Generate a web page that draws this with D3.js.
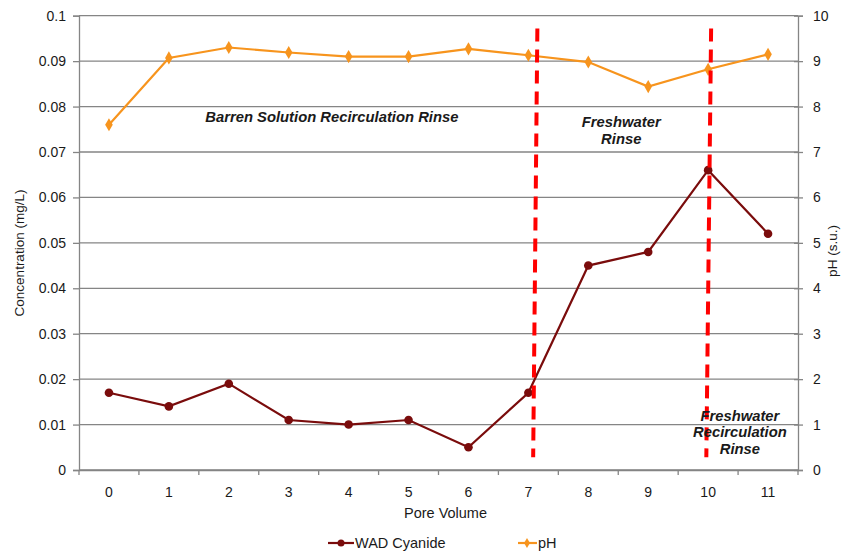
<!DOCTYPE html>
<html><head><meta charset="utf-8">
<script src="https://cdn.jsdelivr.net/npm/d3@7"></script>
<style>body{margin:0;background:#fff}svg{display:block;font-family:"Liberation Sans",Arial,sans-serif}</style>
</head><body><svg id="c" width="841" height="553"></svg>
<script>
const poreVolumes = [0,1,2,3,4,5,6,7,8,9,10,11];
const wadCyanide = [0.017,0.014,0.019,0.011,0.010,0.011,0.005,0.017,0.045,0.048,0.066,0.052];
const pH = [7.6,9.07,9.3,9.19,9.1,9.1,9.27,9.13,8.98,8.44,8.82,9.15];
const concTicks = [0,0.01,0.02,0.03,0.04,0.05,0.06,0.07,0.08,0.09,0.1];
const phTicks = [0,1,2,3,4,5,6,7,8,9,10];
const phaseLines = [{x0:7.15,x1:7.08,y0:9.72,y1:0.28},{x0:10.05,x1:9.97,y0:9.72,y1:0.28}];
const annotations = [
  {x:3.72,y:7.66,lines:["Barren Solution Recirculation Rinse"]},
  {x:8.55,y:7.55,lines:["Freshwater","Rinse"]},
  {x:10.53,y:1.08,lines:["Freshwater","Recirculation","Rinse"]}
];

const svg = d3.select("#c");
const L=79,R=798,T=15.7,B=470;
const x = d3.scaleBand().domain(poreVolumes).range([L,R]);
const xc = v => x(0) + x.bandwidth()/2 + v*x.step();
const yL = d3.scaleLinear().domain([0,0.1]).range([B,T]);
const yR = d3.scaleLinear().domain([0,10]).range([B,T]);
const grid="#858585";

// gridlines
svg.append("g").selectAll("line").data(concTicks.slice(1)).join("line")
  .attr("x1",L).attr("x2",R).attr("y1",d=>yL(d)).attr("y2",d=>yL(d))
  .attr("stroke",grid).attr("stroke-width",1.3);

// left axis
const gl = svg.append("g").attr("transform",`translate(${L},0)`)
  .call(d3.axisLeft(yL).tickValues(concTicks).tickFormat(d=>d===0?"0":String(+d.toFixed(2))).tickSizeOuter(0).tickSize(6).tickPadding(7));
// right axis
const gr = svg.append("g").attr("transform",`translate(${R},0)`)
  .call(d3.axisRight(yR).tickValues(phTicks).tickSizeOuter(0).tickSize(5).tickPadding(10));
gr.selectAll(".tick line").attr("x1",-4);
// bottom axis
const gb = svg.append("g").attr("transform",`translate(0,${B})`)
  .call(d3.axisBottom(x).tickSize(0).tickPadding(17));
gb.selectAll(".tick text").attr("dy","0.71em");
// x ticks at band boundaries
svg.append("g").selectAll("line").data(d3.range(poreVolumes.length+1)).join("line")
  .attr("x1",d=>L+d*x.step()).attr("x2",d=>L+d*x.step()).attr("y1",B).attr("y2",B+5)
  .attr("stroke",grid).attr("stroke-width",1.3);

[gl,gr,gb].forEach(g=>{
  g.selectAll(".domain").attr("stroke",grid).attr("stroke-width",1.3);
  g.selectAll(".tick line").attr("stroke",grid).attr("stroke-width",1.3);
  g.selectAll("text").attr("font-size",14).attr("fill","#1a1a1a").attr("font-family","Liberation Sans, Arial, sans-serif");
});
svg.append("line").attr("x1",L).attr("x2",R).attr("y1",B).attr("y2",B).attr("stroke",grid).attr("stroke-width",1.3);

// axis titles
svg.append("text").attr("x",(L+R)/2+7).attr("y",518).attr("text-anchor","middle").attr("font-size",14.5).attr("fill","#1a1a1a").text("Pore Volume");
svg.append("text").attr("transform","translate(24,253) rotate(-90)").attr("text-anchor","middle").attr("font-size",13.5).attr("fill","#1a1a1a").text("Concentration (mg/L)");
svg.append("text").attr("transform","translate(837,251) rotate(-90)").attr("text-anchor","middle").attr("font-size",13.5).attr("fill","#1a1a1a").text("pH (s.u.)");

// pH line
const orange="#f7941d", dred="#7a0c0c";
svg.append("path").datum(pH).attr("fill","none").attr("stroke",orange).attr("stroke-width",2.2)
  .attr("d",d3.line().x((d,i)=>xc(poreVolumes[i])).y(d=>yR(d)));
svg.append("g").selectAll("path").data(pH).join("path")
  .attr("d",d3.symbol(d3.symbolDiamond,50)).attr("fill",orange)
  .attr("transform",(d,i)=>`translate(${xc(poreVolumes[i])},${yR(d)})`);

// WAD line
svg.append("path").datum(wadCyanide).attr("fill","none").attr("stroke",dred).attr("stroke-width",2.2)
  .attr("d",d3.line().x((d,i)=>xc(poreVolumes[i])).y(d=>yL(d)));
svg.append("g").selectAll("circle").data(wadCyanide).join("circle")
  .attr("cx",(d,i)=>xc(poreVolumes[i])).attr("cy",d=>yL(d)).attr("r",4.3).attr("fill",dred);

// phase lines
svg.append("g").selectAll("line").data(phaseLines).join("line")
  .attr("x1",d=>xc(d.x0)).attr("x2",d=>xc(d.x1)).attr("y1",d=>yR(d.y0)).attr("y2",d=>yR(d.y1))
  .attr("stroke","#ff0000").attr("stroke-width",4).attr("stroke-dasharray","13,8");

// annotations
annotations.forEach(a=>{
  const t = svg.append("text").attr("text-anchor","middle").attr("font-size",14.8).attr("font-weight","bold").attr("font-style","italic").attr("fill","#1a1a1a");
  a.lines.forEach((l,i)=>t.append("tspan").attr("x",xc(a.x)).attr("y",yR(a.y)+i*16.5).text(l));
});

// legend
const lg = svg.append("g");
lg.append("line").attr("x1",328).attr("x2",354).attr("y1",543).attr("y2",543).attr("stroke",dred).attr("stroke-width",2.2);
lg.append("circle").attr("cx",341).attr("cy",543).attr("r",3.5).attr("fill",dred);
lg.append("text").attr("x",355).attr("y",548).attr("font-size",14.5).attr("fill","#1a1a1a").text("WAD Cyanide");
lg.append("line").attr("x1",518).attr("x2",537).attr("y1",543).attr("y2",543).attr("stroke",orange).attr("stroke-width",2.2);
lg.append("path").attr("d",d3.symbol(d3.symbolDiamond,30)).attr("fill",orange).attr("transform","translate(527,543)");
lg.append("text").attr("x",538).attr("y",548).attr("font-size",14.5).attr("fill","#1a1a1a").text("pH");
</script></body></html>
